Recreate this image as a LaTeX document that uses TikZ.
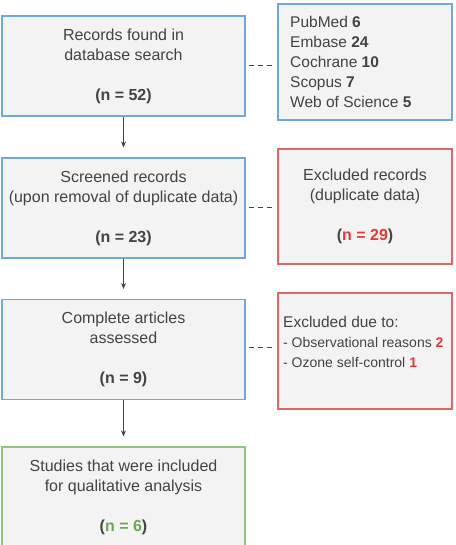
\documentclass[tikz,border=0pt]{standalone}
\usepackage{fontspec}
\setmainfont{Liberation Sans}
\usetikzlibrary{arrows.meta}
\definecolor{txt}{HTML}{434343}
\definecolor{bluebd}{HTML}{6FA8DC}
\definecolor{redbd}{HTML}{E06666}
\definecolor{greenbd}{HTML}{93C47D}
\definecolor{boxfill}{HTML}{F3F3F3}
\definecolor{rednum}{HTML}{E53935}
\definecolor{greennum}{HTML}{6AA84F}
\definecolor{linecol}{HTML}{434343}
\begin{document}
\begin{tikzpicture}[x=1pt,y=-1pt,
  box/.style={draw, fill=boxfill, line width=1.2pt, inner sep=0pt, align=center, text=txt,
    font=\fontsize{16}{20}\selectfont},
  leftbox/.style={box, minimum width=243pt, minimum height=100pt},
  rightbox/.style={box, minimum width=174pt, minimum height=116pt},
  lbl/.style={inner sep=0pt, text=txt, align=left, anchor=west, font=\fontsize{15.5}{20}\selectfont},
  flow/.style={draw=linecol, line width=0.9pt, -{Stealth[length=6pt,width=5pt]}, shorten >=10pt},
  link/.style={draw=linecol, line width=0.9pt, dash pattern=on 5pt off 4pt, shorten <=3pt, shorten >=5pt}]
\clip (0,0) rectangle (455,545);
\fill[white] (0,0) rectangle (455,545);
% left column
\node[leftbox, draw=bluebd] (b1) at (123.5,66) {Records found in\\database search\\[20pt]\textbf{(n = 52)}};
\node[leftbox, draw=bluebd] (b2) at (123.5,208) {Screened records\\(upon removal of duplicate data)\\[20pt]\textbf{(n = 23)}};
\node[leftbox, draw=bluebd] (b3) at (123.5,349.5) {Complete articles\\assessed\\[20pt]\textbf{(n = 9)}};
\node[leftbox, draw=greenbd] (b4) at (123.5,497) {Studies that were included\\for qualitative analysis\\[20pt]\textbf{(\textcolor{greennum}{n = 6})}};
% right column
\node[rightbox, draw=bluebd, minimum height=116pt] (r1) at (365,62) {};
\node[lbl] (t1) at (290,62) {PubMed \textbf{6}\\Embase \textbf{24}\\Cochrane \textbf{10}\\Scopus \textbf{7}\\Web of Science \textbf{5}};
\node[rightbox, draw=redbd, minimum height=115pt] (r2) at (365,206.5) {Excluded records\\(duplicate data)\\[20pt]\textbf{(\textcolor{rednum}{n = 29})}};
\node[rightbox, draw=redbd] (r3) at (365,351) {};
\node[lbl] (t3) at (283,342) {Excluded due to:\\{\fontsize{14}{20}\selectfont - Observational reasons \textbf{\textcolor{rednum}{2}}}\\{\fontsize{14}{20}\selectfont - Ozone self-control \textbf{\textcolor{rednum}{1}}}};
% connectors
\draw[flow] (b1) -- (b2);
\draw[flow] (b2) -- (b3);
\draw[flow] (b3) -- (b4);
\draw[link] (b1.east |- 0,65) -- (r1.west |- 0,65);
\draw[link] (b2.east |- 0,207) -- (r2.west |- 0,207);
\draw[link] (b3.east |- 0,347) -- (r3.west |- 0,347);
\end{tikzpicture}
\end{document}
